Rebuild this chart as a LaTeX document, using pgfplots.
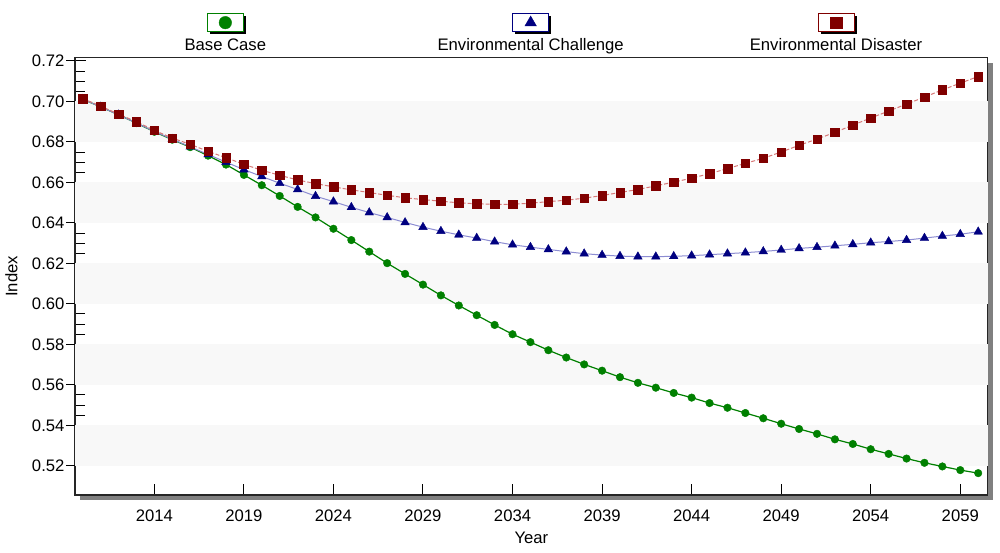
\documentclass[border=0pt]{standalone}
\usepackage{fontspec}
\setmainfont{Liberation Sans}
\usepackage{pgfplots}
\usepackage{pgfplotstable}
\pgfplotsset{compat=1.18}
\usetikzlibrary{shadows}

\definecolor{basegreen}{RGB}{0,128,0}
\definecolor{chalblue}{RGB}{0,0,128}
\definecolor{challine}{RGB}{140,140,210}
\definecolor{disred}{RGB}{128,0,0}
\definecolor{disline}{RGB}{215,120,120}
\definecolor{band}{RGB}{248,248,248}

\pgfplotstableread{
year base chal dis
2010 0.7011 0.7011 0.7014
2011 0.6973 0.6973 0.6977
2012 0.6934 0.6934 0.6937
2013 0.6893 0.6893 0.6900
2014 0.6850 0.6852 0.6857
2015 0.6811 0.6813 0.6819
2016 0.6774 0.6776 0.6788
2017 0.6732 0.6738 0.6753
2018 0.6688 0.6700 0.6722
2019 0.6637 0.6663 0.6689
2020 0.6586 0.6629 0.6660
2021 0.6533 0.6596 0.6635
2022 0.6479 0.6565 0.6612
2023 0.6427 0.6532 0.6594
2024 0.6371 0.6505 0.6578
2025 0.6315 0.6477 0.6563
2026 0.6258 0.6451 0.6550
2027 0.6201 0.6427 0.6536
2028 0.6148 0.6402 0.6524
2029 0.6095 0.6379 0.6515
2030 0.6042 0.6359 0.6507
2031 0.5992 0.6341 0.6499
2032 0.5944 0.6325 0.6494
2033 0.5896 0.6307 0.6492
2034 0.5850 0.6292 0.6492
2035 0.5811 0.6280 0.6497
2036 0.5771 0.6269 0.6505
2037 0.5735 0.6258 0.6512
2038 0.5701 0.6248 0.6522
2039 0.5670 0.6241 0.6535
2040 0.5638 0.6236 0.6550
2041 0.5610 0.6233 0.6565
2042 0.5586 0.6233 0.6583
2043 0.5560 0.6235 0.6601
2044 0.5537 0.6238 0.6621
2045 0.5510 0.6243 0.6643
2046 0.5487 0.6248 0.6668
2047 0.5461 0.6253 0.6694
2048 0.5435 0.6259 0.6719
2049 0.5408 0.6266 0.6750
2050 0.5382 0.6274 0.6783
2051 0.5358 0.6280 0.6814
2052 0.5331 0.6287 0.6847
2053 0.5308 0.6294 0.6883
2054 0.5282 0.6302 0.6918
2055 0.5259 0.6308 0.6952
2056 0.5236 0.6315 0.6987
2057 0.5215 0.6325 0.7021
2058 0.5197 0.6335 0.7057
2059 0.5179 0.6344 0.7090
2060 0.5164 0.6356 0.7123
}\scen

\newcommand{\chartfont}{\fontsize{12.5}{15}\selectfont}

% legend entry: box with shadow, mark inside, label underneath
\pgfplotsset{
  legbox/.style n args={3}{legend image code/.code={
      \path[draw=none,fill=none] (-114pt,-26.25pt) rectangle (114pt,9pt);
      \fill[black,solid,draw=none] (-11.5pt,-8.75pt) rectangle (15.5pt,5pt);
      \draw[solid,line width=0.75pt,draw=#1,fill=white] (-13.5pt,-6.75pt) rectangle (13.5pt,7pt);
      \draw[solid,mark size=#2] plot[only marks] coordinates {(0pt,0pt)};
      \node[anchor=base,text=black,font=\chartfont,draw=none,fill=none] at (0pt,-21.25pt) {#3};
  }},
}

\begin{document}
\begin{tikzpicture}
\useasboundingbox (0,0) rectangle (750pt,414.75pt);
\begin{axis}[
  at={(56.25pt,43.5pt)}, anchor=south west,
  scale only axis, width=684.5pt, height=328pt,
  xmin=2009.57, xmax=2060.53, ymin=0.5056, ymax=0.7216,
  clip=false,
  axis background/.style={fill=white, drop shadow={shadow xshift=3.75pt, shadow yshift=-3.75pt, fill=black!50, opacity=1}},
  axis line style={black!85, line width=1.2pt},
  tick align=inside, xtick pos=bottom, ytick pos=left,
  xtick={2014,2019,2024,2029,2034,2039,2044,2049,2054,2059},
  ytick={0.52,0.54,0.56,0.58,0.60,0.62,0.64,0.66,0.68,0.70,0.72},
  minor y tick num=3,
  major tick length=8pt, minor tick length=7.5pt,
  tick style={black, line width=0.75pt},
  /pgf/number format/assume math mode=true,
  xticklabel style={/pgf/number format/1000 sep={}, yshift=-7.4pt},
  yticklabel style={/pgf/number format/.cd, fixed, fixed zerofill, precision=2, /tikz/.cd, xshift=-4.4pt},
  ticklabel style={font=\chartfont},
  label style={font=\chartfont},
  xlabel={Year}, ylabel={Index},
  xlabel style={at={(axis description cs:0.5,0)}, anchor=center, yshift=-32.25pt},
  ylabel style={at={(axis description cs:-0.0696,0.5)}, anchor=center},
  legend style={at={(0.5,1)}, anchor=south, draw=none, fill=none, inner sep=0pt, outer sep=0pt,
    /tikz/every even column/.style={column sep=0pt}, nodes={inner sep=0pt, outer sep=0pt}},
  legend columns=3,
]
% light bands
\fill[band] (axis cs:2009.57,0.68) rectangle (axis cs:2060.53,0.70);
\fill[band] (axis cs:2009.57,0.64) rectangle (axis cs:2060.53,0.66);
\fill[band] (axis cs:2009.57,0.60) rectangle (axis cs:2060.53,0.62);
\fill[band] (axis cs:2009.57,0.56) rectangle (axis cs:2060.53,0.58);
\fill[band] (axis cs:2009.57,0.52) rectangle (axis cs:2060.53,0.54);
% outer part of the major y ticks
\pgfplotsinvokeforeach{0.52,0.54,0.56,0.58,0.60,0.62,0.64,0.66,0.68,0.70,0.72}{
  \draw[black,line width=0.75pt] (axis cs:2009.57,#1) -- ++(-6.75pt,0pt);
}

\addplot[basegreen, line width=0.9pt, mark=*, mark size=2.85pt,
  mark options={fill=basegreen, draw=basegreen, line width=0.3pt},
  legbox={basegreen}{4.7pt}{Base Case}] table[x=year,y=base]{\scen};
\addlegendentry{\mbox{}}
\addplot[challine, line width=0.75pt, mark=triangle*, mark size=3.7pt,
  mark options={fill=chalblue, draw=chalblue, line width=0.3pt},
  legbox={chalblue}{5pt}{Environmental Challenge}] table[x=year,y=chal]{\scen};
\addlegendentry{\mbox{}}
\addplot[disline, line width=0.75pt, dash pattern=on 3pt off 1.5pt, mark=square*, mark size=3.2pt,
  mark options={solid, fill=disred, draw=disred, line width=0.3pt},
  legbox={disred}{4.3pt}{Environmental Disaster}] table[x=year,y=dis]{\scen};
\addlegendentry{\mbox{}}
\end{axis}
\end{tikzpicture}
\end{document}
